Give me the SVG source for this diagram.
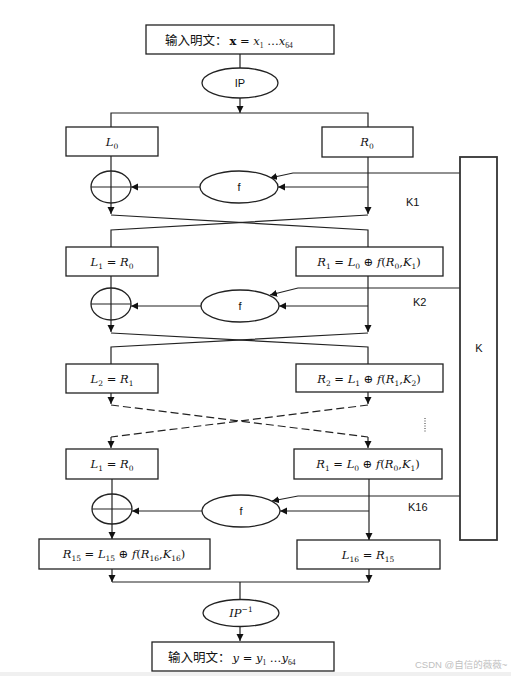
<svg xmlns="http://www.w3.org/2000/svg" width="511" height="676" viewBox="0 0 511 676">
<style>
.bx{fill:#fff;stroke:#222;stroke-width:1.3}
.el{fill:#fff;stroke:#222;stroke-width:1.3}
.ln{fill:none;stroke:#222;stroke-width:1.2}
.ar{fill:none;stroke:#222;stroke-width:1.2;marker-end:url(#ah)}
.ds{fill:none;stroke:#222;stroke-width:1.2;stroke-dasharray:8 4}
.m{font-family:"DejaVu Serif","Liberation Serif",serif;font-size:11.5px;fill:#111}
.v{font-style:italic}
.s{font-size:7.5px}
.t{font-family:"Liberation Sans","DejaVu Sans",sans-serif;font-size:11px;fill:#111}
.c{font-family:"Liberation Serif","Noto Sans CJK SC",serif;font-size:12.5px;fill:#111}
.cm{font-family:"DejaVu Serif","Liberation Serif",serif;font-size:11.5px}
</style>
<defs>
<marker id="ah" markerUnits="userSpaceOnUse" markerWidth="8" markerHeight="8" refX="7" refY="3.5" orient="auto">
<path d="M0,0 L7,3.5 L0,7 z" fill="#111"/>
</marker>
</defs>
<rect width="511" height="676" fill="#fff"/>
<rect x="0" y="672" width="511" height="4" fill="#f0f0f0"/>

<g id="connectors">
<line class="ln" x1="240" y1="54" x2="240" y2="68"/>
<line class="ar" x1="240" y1="98" x2="240" y2="113"/>
<polyline class="ln" points="111,127 111,113 368,113 368,127"/>
<line class="ar" x1="111" y1="156" x2="111" y2="214"/>
<line class="ar" x1="368" y1="157" x2="368" y2="214"/>
<line class="ar" x1="368" y1="187" x2="278" y2="187"/>
<line class="ar" x1="200" y1="187" x2="131" y2="187"/>
<polyline class="ar" points="460,173 293,173 270,178"/>
<polyline class="ln" points="111,215 368,230 368,247"/>
<polyline class="ln" points="368,215 111,230 111,247"/>
<line class="ar" x1="111" y1="276" x2="111" y2="332"/>
<line class="ar" x1="368" y1="276" x2="368" y2="332"/>
<line class="ar" x1="368" y1="306" x2="279" y2="306"/>
<line class="ar" x1="201" y1="306" x2="131" y2="306"/>
<polyline class="ar" points="460,288 298,288 270,295"/>
<polyline class="ln" points="111,333 368,347 368,364"/>
<polyline class="ln" points="368,333 111,347 111,364"/>
<line class="ar" x1="111" y1="393" x2="111" y2="404"/>
<line class="ar" x1="368" y1="392" x2="368" y2="404"/>
<line class="ds" x1="111" y1="405" x2="368" y2="437"/>
<line class="ds" x1="368" y1="405" x2="111" y2="437"/>
<line class="ar" x1="111" y1="437" x2="111" y2="448"/>
<line class="ar" x1="368" y1="437" x2="368" y2="448"/>
<line x1="425" y1="418" x2="425" y2="433" stroke="#333" stroke-width="1" stroke-dasharray="1 1.5"/>
<line class="ar" x1="112" y1="479" x2="112" y2="539"/>
<line class="ar" x1="369" y1="479" x2="369" y2="540"/>
<line class="ar" x1="369" y1="511" x2="280" y2="511"/>
<line class="ar" x1="202" y1="511" x2="132" y2="511"/>
<polyline class="ar" points="460,496 298,496 272,501"/>
<line class="ar" x1="112" y1="569" x2="112" y2="582"/>
<line class="ar" x1="369" y1="569" x2="369" y2="582"/>
<line class="ln" x1="112" y1="582" x2="369" y2="582"/>
<line class="ln" x1="240" y1="582" x2="240" y2="600"/>
<line class="ar" x1="240" y1="627" x2="240" y2="641"/>
</g>

<g id="input">
<rect class="bx" x="146" y="25" width="188" height="29"/>
<text class="c" x="165" y="45">输入明文：<tspan class="cm" font-weight="bold" dx="2">x</tspan><tspan class="cm"> = </tspan><tspan class="cm v">x</tspan><tspan class="s" dy="3">1</tspan><tspan class="cm" dy="-3"> …</tspan><tspan class="cm v">x</tspan><tspan class="s" dy="3">64</tspan></text>
</g>
<g id="ip">
<ellipse class="el" cx="240" cy="83" rx="38" ry="15"/>
<text class="t" x="240" y="87" text-anchor="middle">IP</text>
</g>

<g id="L0"><rect class="bx" x="66" y="127" width="92" height="29"/>
<text class="m" x="112" y="146" text-anchor="middle"><tspan class="v">L</tspan><tspan class="s" dy="3">0</tspan></text></g>
<g id="R0"><rect class="bx" x="322" y="127" width="91" height="30"/>
<text class="m" x="367" y="146" text-anchor="middle"><tspan class="v">R</tspan><tspan class="s" dy="3">0</tspan></text></g>
<g id="xor1"><ellipse class="el" cx="111" cy="187" rx="20" ry="16"/><line class="ln" x1="91" y1="187" x2="131" y2="187"/><line class="ln" x1="111" y1="171" x2="111" y2="203"/></g>
<g id="f1"><ellipse class="el" cx="239" cy="187" rx="39" ry="16"/><text class="t" x="239" y="191" text-anchor="middle">f</text></g>
<text class="t" id="k1" x="406" y="206">K1</text>

<g id="L1"><rect class="bx" x="66" y="247" width="92" height="29"/>
<text class="m" x="112" y="266" text-anchor="middle"><tspan class="v">L</tspan><tspan class="s" dy="3">1</tspan><tspan dy="-3"> = </tspan><tspan class="v">R</tspan><tspan class="s" dy="3">0</tspan></text></g>
<g id="R1"><rect class="bx" x="296" y="247" width="147" height="29"/>
<text class="m" x="369" y="266" text-anchor="middle"><tspan class="v">R</tspan><tspan class="s" dy="3">1</tspan><tspan dy="-3"> = </tspan><tspan class="v">L</tspan><tspan class="s" dy="3">0</tspan><tspan dy="-3"> ⊕ </tspan><tspan class="v">f</tspan><tspan>(</tspan><tspan class="v">R</tspan><tspan class="s" dy="3">0</tspan><tspan dy="-3">,</tspan><tspan class="v">K</tspan><tspan class="s" dy="3">1</tspan><tspan dy="-3">)</tspan></text></g>
<g id="xor2"><ellipse class="el" cx="111" cy="304" rx="20" ry="16"/><line class="ln" x1="91" y1="304" x2="131" y2="304"/><line class="ln" x1="111" y1="288" x2="111" y2="320"/></g>
<g id="f2"><ellipse class="el" cx="240" cy="306" rx="39" ry="16"/><text class="t" x="240" y="310" text-anchor="middle">f</text></g>
<text class="t" id="k2" x="413" y="306">K2</text>

<g id="L2"><rect class="bx" x="66" y="364" width="92" height="29"/>
<text class="m" x="112" y="383" text-anchor="middle"><tspan class="v">L</tspan><tspan class="s" dy="3">2</tspan><tspan dy="-3"> = </tspan><tspan class="v">R</tspan><tspan class="s" dy="3">1</tspan></text></g>
<g id="R2"><rect class="bx" x="296" y="364" width="147" height="28"/>
<text class="m" x="369" y="383" text-anchor="middle"><tspan class="v">R</tspan><tspan class="s" dy="3">2</tspan><tspan dy="-3"> = </tspan><tspan class="v">L</tspan><tspan class="s" dy="3">1</tspan><tspan dy="-3"> ⊕ </tspan><tspan class="v">f</tspan><tspan>(</tspan><tspan class="v">R</tspan><tspan class="s" dy="3">1</tspan><tspan dy="-3">,</tspan><tspan class="v">K</tspan><tspan class="s" dy="3">2</tspan><tspan dy="-3">)</tspan></text></g>

<g id="L15"><rect class="bx" x="66" y="449" width="92" height="30"/>
<text class="m" x="112" y="468" text-anchor="middle"><tspan class="v">L</tspan><tspan class="s" dy="3">1</tspan><tspan dy="-3"> = </tspan><tspan class="v">R</tspan><tspan class="s" dy="3">0</tspan></text></g>
<g id="R15r"><rect class="bx" x="294" y="449" width="148" height="30"/>
<text class="m" x="368" y="468" text-anchor="middle"><tspan class="v">R</tspan><tspan class="s" dy="3">1</tspan><tspan dy="-3"> = </tspan><tspan class="v">L</tspan><tspan class="s" dy="3">0</tspan><tspan dy="-3"> ⊕ </tspan><tspan class="v">f</tspan><tspan>(</tspan><tspan class="v">R</tspan><tspan class="s" dy="3">0</tspan><tspan dy="-3">,</tspan><tspan class="v">K</tspan><tspan class="s" dy="3">1</tspan><tspan dy="-3">)</tspan></text></g>
<g id="xor16"><ellipse class="el" cx="112" cy="509" rx="20" ry="15"/><line class="ln" x1="92" y1="509" x2="132" y2="509"/><line class="ln" x1="112" y1="494" x2="112" y2="524"/></g>
<g id="f16"><ellipse class="el" cx="241" cy="511" rx="39" ry="16"/><text class="t" x="241" y="515" text-anchor="middle">f</text></g>
<text class="t" id="k16" x="408" y="511">K16</text>

<g id="R16"><rect class="bx" x="39" y="539" width="171" height="30"/>
<text class="m" x="124" y="558" text-anchor="middle"><tspan class="v">R</tspan><tspan class="s" dy="3">15</tspan><tspan dy="-3"> = </tspan><tspan class="v">L</tspan><tspan class="s" dy="3">15</tspan><tspan dy="-3"> ⊕ </tspan><tspan class="v">f</tspan><tspan>(</tspan><tspan class="v">R</tspan><tspan class="s" dy="3">16</tspan><tspan dy="-3">,</tspan><tspan class="v">K</tspan><tspan class="s" dy="3">16</tspan><tspan dy="-3">)</tspan></text></g>
<g id="L16"><rect class="bx" x="297" y="540" width="143" height="29"/>
<text class="m" x="368" y="559" text-anchor="middle"><tspan class="v">L</tspan><tspan class="s" dy="3">16</tspan><tspan dy="-3"> = </tspan><tspan class="v">R</tspan><tspan class="s" dy="3">15</tspan></text></g>

<g id="K"><rect x="460" y="157" width="37" height="383" fill="#fff" stroke="#333" stroke-width="1.8"/>
<text class="t" x="479" y="352" text-anchor="middle">K</text></g>

<g id="ipinv"><ellipse class="el" cx="241" cy="613" rx="38" ry="13.5"/>
<text class="m" x="241" y="617" text-anchor="middle"><tspan class="v">IP</tspan><tspan class="s" dy="-5">−1</tspan></text></g>

<g id="output"><rect class="bx" x="152" y="642" width="182" height="29"/>
<text class="c" x="168" y="662">输入明文：<tspan class="cm v" dx="2">y</tspan><tspan class="cm"> = </tspan><tspan class="cm v">y</tspan><tspan class="s" dy="3">1</tspan><tspan class="cm" dy="-3"> …</tspan><tspan class="cm v">y</tspan><tspan class="s" dy="3">64</tspan></text></g>

<text x="415" y="668" font-family="Liberation Sans, Noto Sans CJK SC, sans-serif" font-size="9.5" fill="#c0c0c0">CSDN @自信的薇薇~</text>
</svg>
